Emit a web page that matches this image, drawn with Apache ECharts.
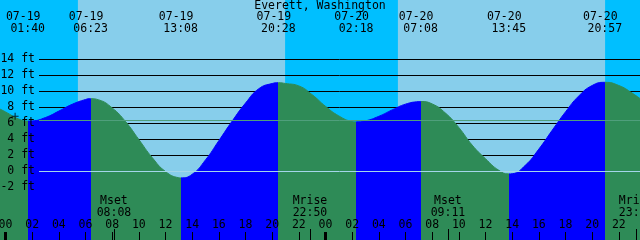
<!DOCTYPE html>
<html>
<head>
<meta charset="utf-8">
<script src="https://cdn.jsdelivr.net/npm/echarts@6/dist/echarts.min.js"></script>
<style>
html, body { margin: 0; padding: 0; }
#main { width: 640px; height: 240px; }
</style>
</head>
<body>
<div id="main"></div>
<script>
// hours counted from 07-19 00:00, heights in feet
var tideHours = [-1, 0, 1, 1.667, 2, 3, 4, 5, 6, 6.383,
	7, 8, 9, 10, 11, 12, 13, 13.133,
	14, 15, 16, 17, 18, 19, 20, 20.467,
	21, 22, 23, 24, 25, 26, 26.3,
	27, 28, 29, 30, 31, 31.133,
	32, 33, 34, 35, 36, 37, 37.75,
	38, 39, 40, 41, 42, 43, 44, 44.95,
	46, 47, 48];
var tideFeet = [8.3, 7.45, 6.55, 6.3, 6.32, 6.75, 7.55, 8.4, 9.0, 9.1,
	8.95, 7.95, 6.25, 4.0, 1.75, 0.0, -0.78, -0.8,
	-0.35, 1.45, 3.85, 6.3, 8.55, 10.35, 11.0, 11.1,
	11.0, 10.7, 9.6, 8.15, 6.95, 6.25, 6.2,
	6.33, 6.9, 7.7, 8.42, 8.74, 8.75,
	8.45, 7.3, 5.5, 3.3, 1.6, 0.15, -0.3,
	-0.28, 0.8, 2.8, 5.15, 7.45, 9.45, 10.75, 11.15,
	10.75, 9.8, 8.6];

// high / low tide events
var eventHours = [1.667, 6.383, 13.133, 20.467, 26.3, 31.133, 37.75, 44.95];
var eventDates = ["07-19", "07-19", "07-19", "07-19", "07-20", "07-20", "07-20", "07-20"];
var eventTimes = ["01:40", "06:23", "13:08", "20:28", "02:18", "07:08", "13:45", "20:57"];

var sunriseHours = [5.43, 29.43];
var sunsetHours = [20.97, 44.97];

var moonHours = [8.133, 22.833, 33.183, 47.3];
var moonNames = ["Mset", "Mrise", "Mset", "Mrise"];
var moonTimes = ["08:08", "22:50", "09:11", "23:18"];

var hourTicks = [0, 2, 4, 6, 8, 10, 12, 14, 16, 18, 20, 22, 24, 26, 28, 30, 32, 34, 36, 38, 40, 42, 44, 46, 48];
var midnightTicks = [0, 24];
var feetTicks = [-2, 0, 2, 4, 6, 8, 10, 12, 14];
var mslFeet = 6.36;
var datumFeet = 0;
var nowMark = [0.72, 6.9];

var xMin = -0.4125;
var xMax = xMin + 48;
var lineStartX = xMin + 39 * 48 / 640;
var font = "DejaVu Sans Mono";

var tideData = tideHours.map(function (h, i) {
	return [h, tideFeet[i]];
});

// rising tide blue, falling tide green
var pieces = [{ lt: eventHours[0], color: "#2e8b57" }];
for (var i = 0; i < eventHours.length; i++) {
	var p = { gte: eventHours[i], color: i % 2 == 0 ? "#0000ff" : "#2e8b57" };
	if (i < eventHours.length - 1) p.lt = eventHours[i + 1];
	pieces.push(p);
}

var dayAreas = sunriseHours.map(function (s, i) {
	return [{ xAxis: s }, { xAxis: sunsetHours[i] }];
});

var gridLines = feetTicks.map(function (f) {
	return [{ coord: [lineStartX, f] }, { coord: [xMax, f] }];
});

function pad2(n) {
	return (n < 10 ? "0" : "") + n;
}

function timeAxis(extra) {
	var a = {
		type: "value",
		min: xMin,
		max: xMax,
		position: "bottom",
		z: 10,
		splitLine: { show: false },
		axisLine: { show: false, onZero: false },
	};
	for (var k in extra) a[k] = extra[k];
	return a;
}

var myChart = echarts.init(document.getElementById("main"));
var option = {
	backgroundColor: "#00bfff",
	animation: false,
	title: {
		text: "Everett, Washington",
		left: "center",
		top: 0,
		padding: 0,
		textStyle: { fontFamily: font, fontSize: 11.5, fontWeight: "normal", color: "#000" },
	},
	grid: { left: 0, right: 0, top: 0, bottom: 0, containLabel: false, outerBoundsMode: "none" },
	visualMap: {
		type: "piecewise",
		show: false,
		dimension: 0,
		seriesIndex: 0,
		pieces: pieces,
	},
	xAxis: [
		timeAxis({
			axisTick: {
				show: true,
				inside: true,
				length: 8,
				customValues: hourTicks,
				lineStyle: { color: "#000", width: 1 },
			},
			axisLabel: {
				inside: true,
				margin: 9,
				customValues: hourTicks,
				fontFamily: font,
				fontSize: 11.5,
				color: "#000",
				formatter: function (v) {
					return pad2(Math.round(v) % 24);
				},
			},
		}),
		timeAxis({
			axisTick: {
				show: true,
				inside: true,
				length: 8,
				customValues: midnightTicks,
				lineStyle: { color: "#000", width: 3 },
			},
			axisLabel: { show: false },
		}),
		timeAxis({
			axisTick: {
				show: true,
				inside: true,
				length: 11,
				customValues: moonHours,
				lineStyle: { color: "#000", width: 1 },
			},
			axisLabel: {
				inside: true,
				margin: 21,
				customValues: moonHours,
				fontFamily: font,
				fontSize: 11.5,
				lineHeight: 12,
				color: "#000",
				formatter: function (v) {
					var i = moonHours.indexOf(v);
					return moonNames[i] + "\n" + moonTimes[i];
				},
			},
		}),
		timeAxis({
			position: "top",
			axisTick: { show: false },
			axisLabel: {
				inside: true,
				margin: 11,
				customValues: eventHours,
				fontFamily: font,
				fontSize: 11.5,
				lineHeight: 12,
				color: "#000",
				formatter: function (v) {
					var i = eventHours.indexOf(v);
					return "{d|" + eventDates[i] + "}\n{t|" + eventTimes[i] + "}";
				},
				rich: {
					d: { fontFamily: font, fontSize: 11.5, lineHeight: 12, color: "#000", padding: [0, 9, 0, 0] },
					t: { fontFamily: font, fontSize: 11.5, lineHeight: 12, color: "#000" },
				},
			},
		}),
	],
	yAxis: {
		type: "value",
		min: -8.5625,
		max: 21.4375,
		z: 10,
		splitLine: { show: false },
		axisLine: { show: false, onZero: false },
		axisTick: { show: false },
		axisLabel: {
			inside: true,
			margin: 35,
			align: "right",
			customValues: feetTicks,
			fontFamily: font,
			fontSize: 11.5,
			color: "#000",
			formatter: "{value} ft",
		},
	},
	series: [
		{
			type: "line",
			z: 3,
			data: tideData,
			smooth: true,
			showSymbol: false,
			silent: true,
			lineStyle: { width: 1 },
			areaStyle: { opacity: 1, origin: "start" },
			markArea: {
				z: 1,
				silent: true,
				itemStyle: { color: "#87ceeb", opacity: 1, borderWidth: 0 },
				data: dayAreas,
			},
			markLine: {
				z: 2,
				silent: true,
				symbol: ["none", "none"],
				label: { show: false },
				lineStyle: { color: "#000", width: 1, type: "solid" },
				data: gridLines,
			},
		},
		{
			type: "scatter",
			z: 5,
			data: [nowMark],
			symbol: "path://M3,0h1v3h3v1h-3v3h-1v-3h-3v-1h3z",
			symbolSize: 7,
			itemStyle: { color: "#000" },
			silent: true,
			markLine: {
				z: 4,
				silent: true,
				symbol: ["none", "none"],
				label: { show: false },
				data: [
					[{ coord: [lineStartX, mslFeet], lineStyle: { color: "#4f9f7c", width: 1, type: "solid" } }, { coord: [xMax, mslFeet] }],
					[{ coord: [lineStartX, datumFeet], lineStyle: { color: "#a4d6ea", width: 1, type: "solid" } }, { coord: [xMax, datumFeet] }],
				],
			},
		},
	],
};
myChart.setOption(option);
</script>
</body>
</html>
